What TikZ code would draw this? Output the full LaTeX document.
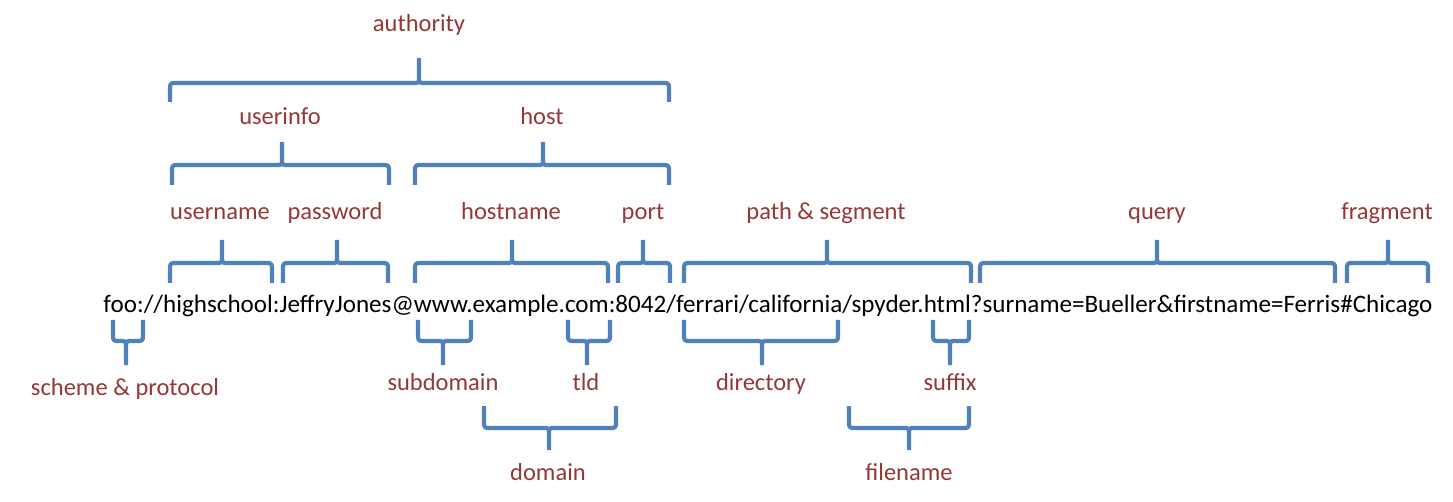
\documentclass[tikz,border=0pt]{standalone}
\usepackage{fontspec}
\setmainfont{Carlito}
\definecolor{braceblue}{HTML}{4F81BD}
\definecolor{labelred}{HTML}{953735}
\newcommand\UpBrace[6]{%
  \draw[bracestyle] (#1,#4) -- (#1,#5+7) .. controls (#1,#5) .. (#1+7,#5) -- (#3-6,#5) .. controls (#3,#5) .. (#3,#5-6) -- (#3,#6)
    (#2,#4) -- (#2,#5+7) .. controls (#2,#5) .. (#2-7,#5) -- (#3+6,#5) .. controls (#3,#5) .. (#3,#5-6);}
\newcommand\DownBrace[6]{%
  \draw[bracestyle] (#1,#4) -- (#1,#5-7) .. controls (#1,#5) .. (#1+7,#5) -- (#3-6,#5) .. controls (#3,#5) .. (#3,#5+6) -- (#3,#6)
    (#2,#4) -- (#2,#5-7) .. controls (#2,#5) .. (#2-7,#5) -- (#3+6,#5) .. controls (#3,#5) .. (#3,#5+6);}
\begin{document}
\begin{tikzpicture}[x=1pt,y=-1pt,
  bracestyle/.style={draw=braceblue,line width=4.2pt,line cap=butt,line join=round},
  lbl/.style={text=labelred,font=\fontsize{24.5}{28}\selectfont,inner sep=0pt,anchor=base},
  url/.style={text=black,font=\fontsize{25.1}{28}\selectfont,inner sep=0pt,anchor=base}]
\useasboundingbox[fill=white] (0,0) rectangle (1453,502);
% URL
\node[url] (u) at (768,313) {foo://highschool:JeffryJones@www.example.com:8042/ferrari/california/spyder.html?surname=Bueller\&firstname=Ferris\#Chicago};
% top level
\UpBrace{170}{669}{419}{102}{83}{58}
\node[lbl] (authority) at (419,32) {authority};
\UpBrace{172}{389}{282}{185}{165}{142}
\node[lbl] (userinfo) at (280,125) {userinfo};
\UpBrace{415}{669}{543}{185}{165}{142}
\node[lbl] (host) at (542,125) {host};
% row above URL
\UpBrace{170}{272}{222}{283}{263}{240}
\node[lbl] (username) at (220,220) {username};
\UpBrace{283}{388}{337}{283}{263}{240}
\node[lbl] (password) at (335,220) {password};
\UpBrace{415}{608}{512}{283}{263}{240}
\node[lbl] (hostname) at (511,220) {hostname};
\UpBrace{618}{670}{643}{283}{263}{240}
\node[lbl] (port) at (643,220) {port};
\UpBrace{684}{971}{827}{283}{263}{240}
\node[lbl] (path) at (826,220) {path \& segment};
\UpBrace{980}{1335}{1157}{283}{263}{240}
\node[lbl] (query) at (1157,220) {query};
\UpBrace{1347}{1428}{1388}{283}{263}{240}
\node[lbl] (fragment) at (1387,220) {fragment};
% row below URL
\DownBrace{113}{143}{126}{320}{341}{365}
\node[lbl] (scheme) at (125,395) {scheme \& protocol};
\DownBrace{418}{471}{443}{320}{341}{365}
\node[lbl] (subdomain) at (443,390) {subdomain};
\DownBrace{568}{610}{587}{320}{341}{365}
\node[lbl] (tld) at (586,390) {tld};
\DownBrace{684}{838}{762}{320}{341}{365}
\node[lbl] (directory) at (761,390) {directory};
\DownBrace{933}{969}{950}{320}{341}{365}
\node[lbl] (suffix) at (950,390) {suffix};
% lowest
\DownBrace{484}{616}{549}{406}{428}{450}
\node[lbl] (domain) at (548,480) {domain};
\DownBrace{849}{969}{909}{406}{428}{450}
\node[lbl] (filename) at (909,480) {filename};
\end{tikzpicture}
\end{document}
